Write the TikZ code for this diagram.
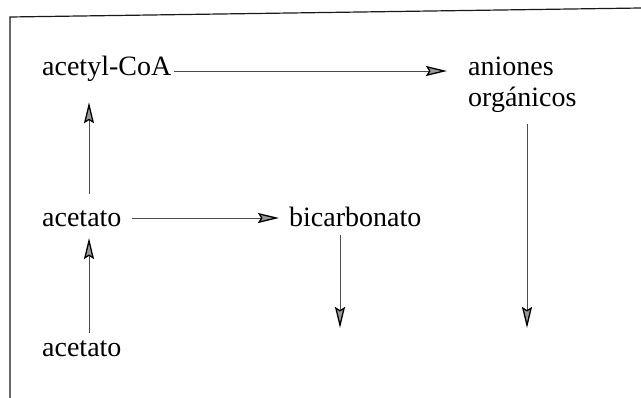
\documentclass[tikz,border=0pt]{standalone}
\usepackage{fontspec}
\setmainfont{Liberation Serif}
\usetikzlibrary{arrows.meta}
\begin{document}
\begin{tikzpicture}[x=1pt,y=-1pt,
  lbl/.style={anchor=base west,inner sep=0pt,font=\fontsize{28}{31}\selectfont},
  conn/.style={draw=black!70,line width=0.9pt,-{Stealth[length=21pt,width=10pt,inset=3pt,fill=black!40,color=black,line width=1.3pt]}},
  frame/.style={draw=black!90,line width=1.2pt}]
\useasboundingbox (0,0) rectangle (641,398);
\draw[frame] (10,398) -- (10,17) -- (641,8);
\node[lbl] (acoa) at (42,76) {acetyl-CoA};
\node[lbl] (anio) at (468,76) {aniones};
\node[lbl] (orga) at (468,107) {orgánicos};
\node[lbl] (acm) at (42,227) {acetato};
\node[lbl] (bic) at (289,227) {bicarbonato};
\node[lbl] (acb) at (42,357) {acetato};
\coordinate (ux) at (89,0);
\coordinate (bx) at (340,0);
\coordinate (rx) at (527,0);
\coordinate (e1) at (527,328);
\coordinate (e2) at (340,328);
% horizontal arrows
\draw[conn] ([xshift=3pt,yshift=5pt]acoa.base east) -- ([xshift=-21pt,yshift=5pt]anio.base west);
\draw[conn] ([xshift=10pt,yshift=9pt]acm.base east) -- ([xshift=-10pt,yshift=9pt]bic.base west);
% vertical arrows
\draw[conn] ([yshift=17pt]ux |- acm.north) -- ([yshift=-20pt]ux |- acoa.south);
\draw[conn] ([yshift=8pt]ux |- acb.north) -- ([yshift=-11pt]ux |- acm.base);
\draw[conn] ([yshift=-8pt]bx |- bic.base) -- (e2);
\draw[conn] ([yshift=-11pt]rx |- orga.south) -- (e1);
\end{tikzpicture}
\end{document}
